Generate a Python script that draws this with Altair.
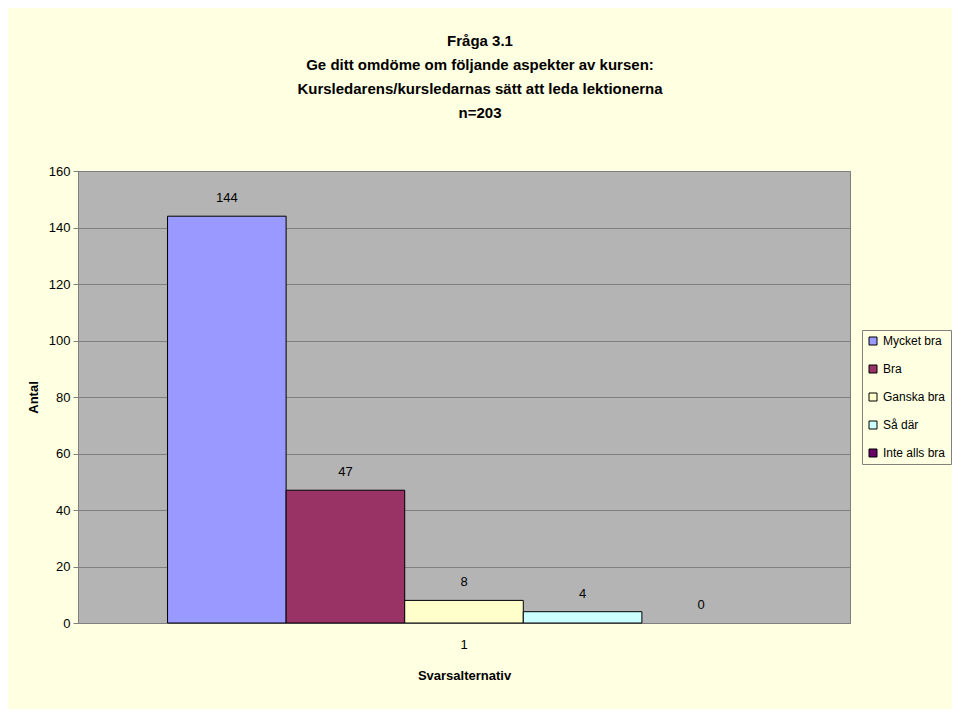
import altair as alt
import pandas as pd

series = ["Mycket bra", "Bra", "Ganska bra", "Så där", "Inte alls bra"]
values = [144, 47, 8, 4, 0]
colors = ["#9999FF", "#993366", "#FFFFCC", "#CCFFFF", "#660066"]
category = ["1"] * 5

df = pd.DataFrame({"kat": category, "serie": series, "antal": values})

FONT = "Liberation Sans, Arial, sans-serif"

x = alt.X("kat:N", title="Svarsalternativ",
          scale=alt.Scale(paddingInner=0, paddingOuter=0.151),
          axis=alt.Axis(labelAngle=0, labelPadding=15, ticks=False, domain=False,
                        labelFontSize=13, titleFontSize=13, titleFontWeight="bold",
                        titlePadding=18, labelFont=FONT, titleFont=FONT,
                        labelColor="black", titleColor="black"))
xo = alt.XOffset("serie:N", sort=series, scale=alt.Scale(paddingInner=0, paddingOuter=0))
y = alt.Y("antal:Q", title="Antal",
          scale=alt.Scale(domain=[0, 160], nice=False),
          axis=alt.Axis(values=list(range(0, 161, 20)), tickSize=5, labelPadding=3,
                        gridColor="#7f7f7f", gridWidth=1, gridOpacity=1,
                        domainColor="#7f7f7f", tickColor="#7f7f7f",
                        labelFontSize=13, titleFontSize=13, titleFontWeight="bold",
                        titlePadding=8, labelFont=FONT, titleFont=FONT,
                        labelColor="black", titleColor="black"))

bars = alt.Chart(df).mark_bar(strokeWidth=1).encode(
    x=x, xOffset=xo, y=y,
    stroke=alt.condition("datum.antal > 0", alt.value("black"), alt.value(None)),
    color=alt.Color("serie:N", sort=series,
                    scale=alt.Scale(domain=series, range=colors),
                    legend=alt.Legend(title=None, orient="none", legendX=784, legendY=159,
                                      symbolType="square", symbolSize=64,
                                      symbolStrokeColor="black", symbolStrokeWidth=1,
                                      labelFontSize=12, labelFont=FONT, labelColor="black",
                                      labelOffset=4,
                                      rowPadding=16, padding=5, strokeColor="#808080",
                                      fillColor="#FFFFE1", labelLimit=200)),
)

labels = alt.Chart(df).mark_text(fontSize=13, font=FONT, color="black", dy=-18,
                                 baseline="middle").encode(
    x=alt.X("kat:N"), xOffset=alt.XOffset("serie:N", sort=series), y="antal:Q",
    text="antal:Q",
)

chart = (bars + labels).properties(
    width=772, height=452,
    padding={"left": 70, "top": 163, "right": 102, "bottom": 86},
    autosize=alt.AutoSizeParams(type="none"),
    background="#FFFFE1",
    title=alt.TitleParams(
        text=["Fråga 3.1",
              "Ge ditt omdöme om följande aspekter av kursen:",
              "Kursledarens/kursledarnas sätt att leda lektionerna",
              "n=203"],
        anchor="middle", fontSize=15, font=FONT, fontWeight="bold",
        lineHeight=24, offset=44, dx=16, color="black"),
).configure_view(fill="#B4B4B4", stroke="#7f7f7f", strokeWidth=1)

chart.save("out.html", embed_options={"renderer": "svg", "actions": False})
